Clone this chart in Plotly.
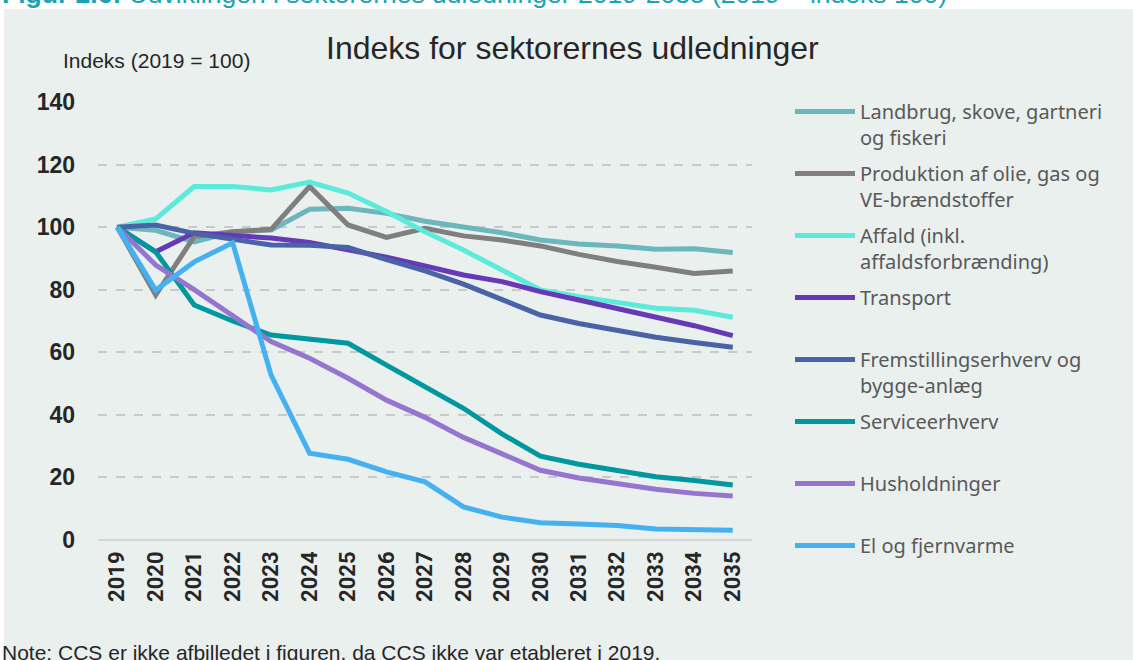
import plotly.graph_objects as go

years = [str(y) for y in range(2019, 2036)]

series_names = [
    "Landbrug, skove, gartneri<br>og fiskeri",
    "Produktion af olie, gas og<br>VE-brændstoffer",
    "Affald (inkl.<br>affaldsforbrænding)",
    "Transport<br> ",
    "Fremstillingserhverv og<br>bygge-anlæg",
    "Serviceerhverv<br> ",
    "Husholdninger<br> ",
    "El og fjernvarme<br> ",
]

landbrug = [100, 99, 95.3, 98.5, 99.1, 105.7, 106, 104.4, 101.9, 100.1, 98.2, 95.9, 94.6, 94.0, 92.9, 93.1, 91.9]
produktion = [100, 78.3, 97, 98.5, 99.3, 113, 100.7, 96.7, 99.6, 97.2, 95.9, 94, 91.3, 89, 87.2, 85.2, 86]
affald = [100, 102.6, 113, 113, 111.9, 114.4, 110.9, 105, 98.5, 92.7, 86.3, 79.9, 77.8, 75.9, 74.1, 73.4, 71.2]
transport = [100, 92.1, 98.2, 97.5, 96.5, 95.1, 92.8, 90.4, 87.6, 84.7, 82.6, 79.4, 76.7, 74.1, 71.4, 68.5, 65.3]
fremstilling = [100, 100.7, 98, 96.1, 94.3, 94.2, 93.5, 89.6, 86, 81.8, 76.9, 71.9, 69.2, 66.9, 64.8, 63.1, 61.6]
service = [100, 92.1, 75.1, 70, 65.5, 64.4, 62.9, 55.9, 49, 42.1, 33.9, 26.8, 24.2, 22.2, 20.2, 19, 17.6]
husholdninger = [100, 87.9, 80, 71.6, 63.4, 58.1, 51.7, 44.7, 39.2, 32.8, 27.6, 22.3, 19.8, 17.9, 16.2, 14.9, 14.1]
el = [100, 79.9, 88.9, 95, 52.7, 27.7, 25.8, 21.8, 18.6, 10.6, 7.3, 5.5, 5.1, 4.6, 3.5, 3.3, 3.1]

values = [landbrug, produktion, affald, transport, fremstilling, service, husholdninger, el]
colors = ["#6CB6BE", "#7F7F7F", "#5CEBDA", "#6739B6", "#4A63A6", "#00979F", "#9575CD", "#46B1F0"]

y_ticks = [0, 20, 40, 60, 80, 100, 120, 140]

title_text = "Indeks for sektorernes udledninger"
y_label = "Indeks (2019 = 100)"
note_text = "Note: CCS er ikke afbilledet i figuren, da CCS ikke var etableret i 2019."
header_text = "<b>Figur 2.6:</b> Udviklingen i sektorernes udledninger 2019-2035 (2019 = indeks 100)"

W, H = 1133, 660
L, R, T, B = 98, 752, 102, 540


def px(x):
    return (x - L) / (R - L)


def py(y):
    return (B - y) / (B - T)


fig = go.Figure()
for name, vals, col in zip(series_names, values, colors):
    fig.add_trace(go.Scatter(
        x=years, y=vals, name=name, mode="lines",
        line=dict(color=col, width=5),
        legendgroup=name,
        hoverinfo="skip",
    ))

fig.add_shape(type="rect", xref="paper", yref="paper",
              x0=px(4), x1=px(1140), y0=py(670), y1=py(9),
              fillcolor="#EAF0EE", line=dict(width=0), layer="below")

fig.add_annotation(text=title_text, xref="paper", yref="paper",
                   x=px(572), y=py(48), xanchor="center", yanchor="middle",
                   showarrow=False,
                   font=dict(family="Liberation Sans Narrow, Liberation Sans", size=32, color="#262626"))
fig.add_annotation(text=y_label, xref="paper", yref="paper",
                   x=px(61), y=py(61), xanchor="left", yanchor="middle",
                   showarrow=False,
                   font=dict(family="Liberation Sans Narrow, Liberation Sans", size=21, color="#262626"))
fig.add_annotation(text=note_text, xref="paper", yref="paper",
                   x=px(0), y=py(652), xanchor="left", yanchor="middle",
                   showarrow=False,
                   font=dict(family="Liberation Sans Narrow, Liberation Sans", size=21, color="#262626"))
fig.add_annotation(text=header_text, xref="paper", yref="paper",
                   x=px(0), y=py(-6), xanchor="left", yanchor="middle",
                   showarrow=False,
                   font=dict(family="Liberation Sans Narrow, Liberation Sans", size=26.5, color="#1AA3B2"))

fig.update_layout(
    width=W, height=H,
    margin=dict(l=L, r=W - R, t=T, b=H - B),
    paper_bgcolor="white",
    plot_bgcolor="rgba(0,0,0,0)",
    showlegend=True,
    legend=dict(
        x=px(790), y=py(92), xanchor="left", yanchor="top",
        font=dict(family="Noto Sans", size=20, color="#595959"),
        bgcolor="rgba(0,0,0,0)",
        valign="top",
        tracegroupgap=7,
        itemwidth=60,
        maxheight=620,
    ),
    xaxis=dict(
        type="category",
        range=[-0.5, 16.5],
        showgrid=False,
        showline=False,
        ticks="",
        tickangle=-90,
        ticklabelstandoff=6,
        tickfont=dict(family="Roboto", size=22, color="#262626", weight="bold"),
    ),
    yaxis=dict(
        range=[0, 140],
        tickvals=y_ticks,
        showgrid=True,
        gridcolor="#C9C9C9",
        gridwidth=1.5,
        griddash="dash",
        zeroline=True,
        zerolinecolor="#D6D6D6",
        zerolinewidth=2,
        showline=False,
        ticks="",
        ticklabelstandoff=22,
        tickfont=dict(family="Liberation Sans", size=23, color="#262626", weight="bold"),
    ),
)

fig.write_html("out.html", config={"displayModeBar": False},
               post_script="document.body.style.margin='0';")
